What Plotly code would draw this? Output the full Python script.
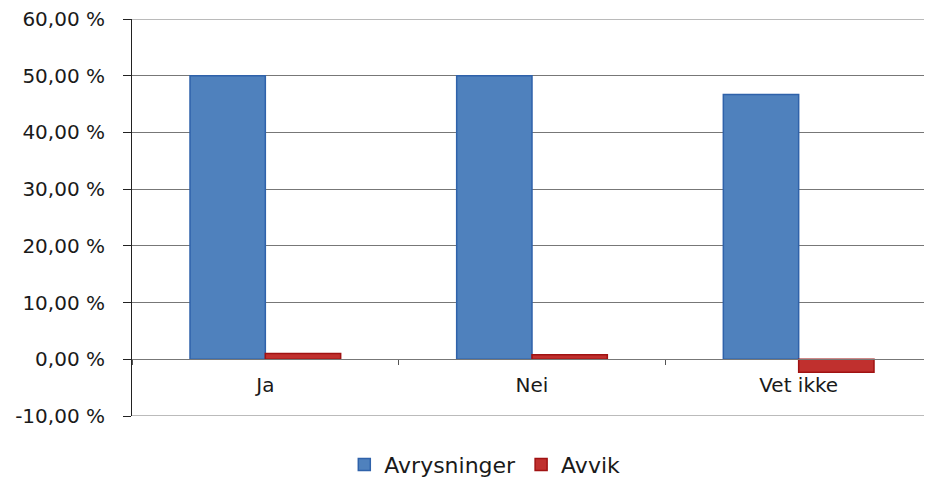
import plotly.graph_objects as go

categories = ["Ja", "Nei", "Vet ikke"]
avrysninger = [50.0, 50.0, 46.7]
avvik = [1.0, 0.8, -2.3]
y_ticks = [-10, 0, 10, 20, 30, 40, 50, 60]
y_labels = ["-10,00 %", "0,00 %", "10,00 %", "20,00 %", "30,00 %", "40,00 %", "50,00 %", "60,00 %"]

font = "'DejaVu Sans', sans-serif"

y_lo, y_hi = y_ticks[0], y_ticks[-1]

fig = go.Figure()
fig.add_trace(go.Bar(name="Avrysninger", x=categories, y=avrysninger,
                     marker=dict(color="#4F81BD", line=dict(color="#2F62AA", width=1.5))))
fig.add_trace(go.Bar(name="Avvik", x=categories, y=avvik,
                     marker=dict(color="#C0302E", line=dict(color="#A01212", width=1.5))))

# gridlines at the range edges (Plotly omits them at the plot border)
for v in (y_lo, y_hi):
    fig.add_hline(y=v, line=dict(color="#777777", width=1), layer="below")

fig.update_layout(
    width=924, height=469,
    margin=dict(l=124, r=0, t=11, b=61, autoexpand=False),
    paper_bgcolor="white", plot_bgcolor="white",
    barmode="group", bargap=0.435, bargroupgap=0,
    font=dict(family=font, size=20, color="#1a1a1a"),
    showlegend=True,
    legend=dict(orientation="h", x=0.441, xanchor="center", yref="container", y=0.026, yanchor="middle",
                font=dict(size=22), itemwidth=30, traceorder="normal"),
    xaxis=dict(anchor="free", position=(0 - y_lo) / (y_hi - y_lo), showline=True,
               linecolor="#777777", linewidth=1,
               ticks="outside", ticklen=5, tickcolor="#555555", tickson="boundaries",
               showgrid=False, ticklabelstandoff=8, fixedrange=True, automargin=False),
    yaxis=dict(range=[y_lo, y_hi], tickvals=y_ticks, ticktext=y_labels,
               showline=True, linecolor="#222222", linewidth=1,
               ticks="outside", ticklen=8, tickcolor="#222222",
               showgrid=True, gridcolor="#777777", gridwidth=1,
               zeroline=False, ticklabelstandoff=14, automargin=False,
               ticklabeloverflow="allow"),
)

fig.write_html("out.html")
